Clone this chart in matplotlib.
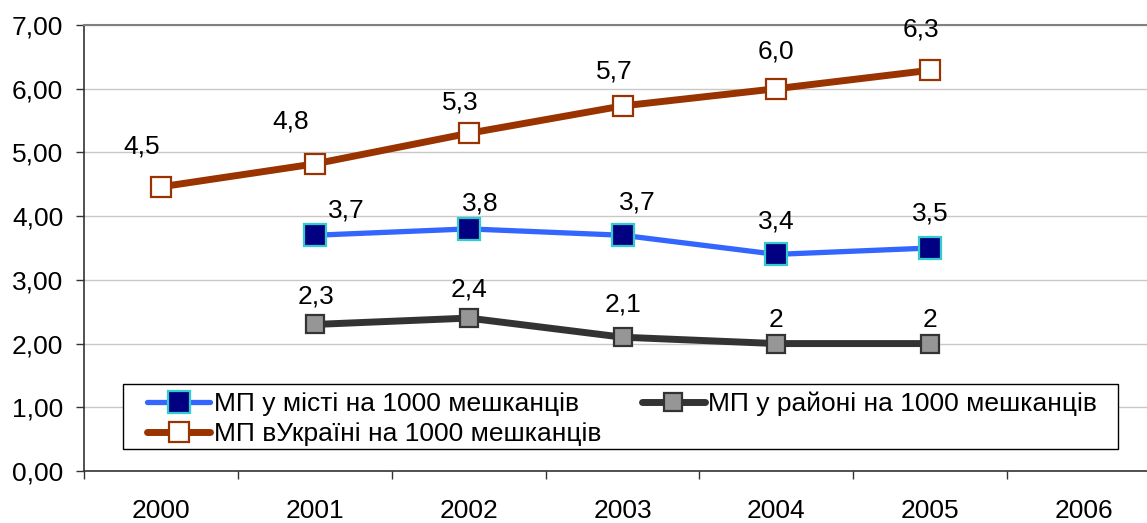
import numpy as np
import matplotlib.pyplot as plt
from matplotlib.patches import Rectangle

plt.rcParams['font.family'] = ['Liberation Sans', 'DejaVu Sans']

years = ['2000', '2001', '2002', '2003', '2004', '2005', '2006']
ukraine = [4.46, 4.82, 5.30, 5.73, 6.00, 6.29]
city = [3.70, 3.80, 3.70, 3.40, 3.50]
district = [2.30, 2.40, 2.10, 2.00, 2.00]
ukraine_labels = ['4,5', '4,8', '5,3', '5,7', '6,0', '6,3']
city_labels = ['3,7', '3,8', '3,7', '3,4', '3,5']
district_labels = ['2,3', '2,4', '2,1', '2', '2']

W, H = 1147, 523
FS = 19
fig = plt.figure(figsize=(W / 100, H / 100), dpi=100)
ax = fig.add_axes([84 / W, (H - 471) / H, (1161 - 84) / W, (471 - 25) / H])

x_uk = np.arange(len(ukraine))
x_city = np.arange(1, 1 + len(city))
x_dist = np.arange(1, 1 + len(district))

l_city, = ax.plot(x_city, city, color='#3366ff', lw=3.8, marker='s', ms=16,
                  mfc='#000080', mec='#33cccc', mew=1.6, zorder=4,
                  solid_capstyle='round', label='МП у місті на 1000 мешканців')
l_dist, = ax.plot(x_dist, district, color='#333333', lw=5, marker='s', ms=13,
                  mfc='#969696', mec='#333333', mew=1.6, zorder=4,
                  solid_capstyle='round', label='МП у районі на 1000 мешканців')
l_uk, = ax.plot(x_uk, ukraine, color='#993300', lw=5, marker='s', ms=14.5,
                mfc='white', mec='#993300', mew=1.6, zorder=4,
                solid_capstyle='round', label='МП вУкраїні на 1000 мешканців')

# data labels (offsets in pixels from the point)
uk_off = [(-19, 40), (-24, 42), (-8, 31), (-8, 34), (0, 37), (-9, 41)]
for xi, yi, t, (dx, dy) in zip(x_uk, ukraine, ukraine_labels, uk_off):
    ax.annotate(t, (xi, yi), xytext=(dx, dy), textcoords='offset pixels',
                ha='center', va='center', fontsize=FS)
city_off = [(32, 25), (12, 25), (15, 33), (0, 33), (0, 34)]
for xi, yi, t, (dx, dy) in zip(x_city, city, city_labels, city_off):
    ax.annotate(t, (xi, yi), xytext=(dx, dy), textcoords='offset pixels',
                ha='center', va='center', fontsize=FS)
dist_off = [(1, 28), (0, 29), (0, 33), (0, 24), (0, 24)]
for xi, yi, t, (dx, dy) in zip(x_dist, district, district_labels, dist_off):
    ax.annotate(t, (xi, yi), xytext=(dx, dy), textcoords='offset pixels',
                ha='center', va='center', fontsize=FS)

ax.set_xlim(-0.5, 6.5)
ax.set_ylim(0, 7)
ax.set_yticks(np.arange(0, 7.01, 1))
ax.yaxis.set_major_formatter(plt.FuncFormatter(lambda v, p: ('%.2f' % v).replace('.', ',')))
ax.set_xticks(np.arange(len(years)))
ax.set_xticklabels(years)
ax.set_xticks(np.arange(-0.5, 6.6, 1), minor=True)
ax.tick_params(axis='x', which='major', length=0, pad=20, labelsize=FS)
ax.tick_params(axis='x', which='minor', length=6, width=1, color='#333333')
ax.tick_params(axis='y', length=6, width=1, color='#333333', pad=9, labelsize=FS)

ax.grid(axis='y', color='#c8c8c8', lw=1)
ax.set_axisbelow(True)
ax.spines['top'].set_color('#808080')
ax.spines['top'].set_linewidth(1.5)
ax.spines['right'].set_visible(False)
for s in ('left', 'bottom'):
    ax.spines[s].set_color('#333333')
    ax.spines[s].set_linewidth(1.2)

# legend box drawn separately so its padding matches the original
box = Rectangle((123 / W, 1 - 449 / H), (1118 - 123) / W, (449 - 384) / H,
                transform=fig.transFigure, facecolor='white', edgecolor='black',
                lw=1, zorder=5)
fig.patches.append(box)
leg = fig.legend(handles=[l_city, l_uk, l_dist], ncol=2, loc='upper left',
                 bbox_to_anchor=(147 / W, 1 - 392 / H), fontsize=FS,
                 frameon=False, handlelength=2.4, handletextpad=0.12,
                 columnspacing=1.55, labelspacing=0.22, borderpad=0,
                 borderaxespad=0)
leg.set_zorder(6)

fig.savefig('out.png', dpi=100)
